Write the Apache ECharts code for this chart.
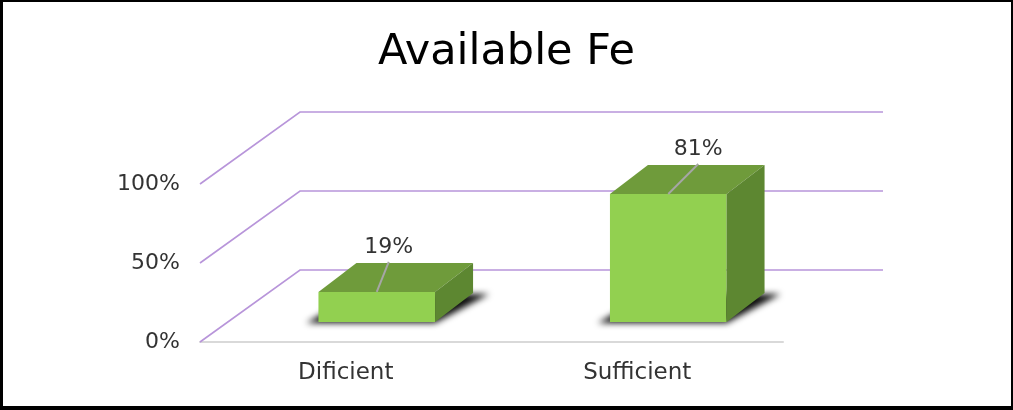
<!DOCTYPE html>
<html>
<head>
<meta charset="utf-8">
<script src="https://cdn.jsdelivr.net/npm/echarts@6/dist/echarts.min.js"></script>
<style>
  html, body { margin: 0; padding: 0; background: #fff; }
  #wrap { position: relative; width: 1013px; height: 410px; }
  #chart { position: absolute; left: 0; top: 0; width: 1013px; height: 410px; }
  #frame { position: absolute; left: 0; top: 0; right: 0; bottom: 0;
           border-style: solid; border-color: #000; border-width: 2px 2px 4px 3px;
           pointer-events: none; }
</style>
</head>
<body>
<div id="wrap">
  <div id="chart"></div>
  <div id="frame"></div>
</div>
<script>
// Share of samples per Fe availability class (%)
const categories = ['Dificient', 'Sufficient'];
const shares = [19, 81];
const yTicks = [0, 50, 100];

// 3D look: wall depth, bar placement inside the depth and bar thickness
const WALL_DX = 100, WALL_DY = -72;
const BAR_SHIFT_X = 31, BAR_SHIFT_Y = -20;
const BAR_DX = 38, BAR_DY = -29;
const BAR_WIDTH_RATIO = 0.4;
// leader line of each data label: rise and sideways lean
const LEADER_RISE = 30;
const leaderLean = [12, 30];

const FONT = 'DejaVu Sans';
const TEXT_COLOR = '#333333';

const chart = echarts.init(document.getElementById('chart'), null, { renderer: 'canvas' });

function renderWall(params, api) {
  const cs = params.coordSys;
  const y = api.coord([0, api.value(1)])[1];
  const left = cs.x, right = cs.x + cs.width;
  return {
    type: 'polyline',
    shape: { points: [[left, y], [left + WALL_DX, y + WALL_DY], [right + WALL_DX, y + WALL_DY]] },
    style: { stroke: '#B895DA', lineWidth: 1.6, fill: null }
  };
}

function renderBar(params, api) {
  const idx = params.dataIndex;
  const base = api.coord([api.value(0), 0]);
  const top = api.coord([api.value(0), api.value(1)]);
  const band = api.size([1, 0])[0];
  const w = band * BAR_WIDTH_RATIO;
  const x0 = base[0] - w / 2 + BAR_SHIFT_X;
  const x1 = x0 + w;
  const yb = base[1] + BAR_SHIFT_Y;
  const yt = top[1] + BAR_SHIFT_Y;

  // soft shadow cast by the bar footprint, drawn off-canvas and brought back by its shadow offset
  const OFF = 3000;
  const foot = [
    [x0 - 12, yb], [x1, yb], [x1 + BAR_DX + 16, yb + BAR_DY], [x0 + BAR_DX, yb + BAR_DY]
  ].map(p => [p[0] - OFF, p[1]]);

  const cx = (x0 + x1) / 2;
  const lx = cx + leaderLean[idx];
  const ly = yt - LEADER_RISE;

  return {
    type: 'group',
    children: [
      {
        type: 'polygon',
        shape: { points: foot },
        style: { fill: 'rgba(0,0,0,1)', shadowColor: 'rgba(0,0,0,0.95)', shadowBlur: 6, shadowOffsetX: OFF, shadowOffsetY: 1 }
      },
      {
        type: 'rect',
        shape: { x: x0, y: yt, width: w, height: yb - yt },
        style: { fill: '#92D050' }
      },
      {
        type: 'polygon',
        shape: { points: [[x0, yt], [x1, yt], [x1 + BAR_DX, yt + BAR_DY], [x0 + BAR_DX, yt + BAR_DY]] },
        style: { fill: '#6F9B3B' }
      },
      {
        type: 'polygon',
        shape: { points: [[x1, yt], [x1 + BAR_DX, yt + BAR_DY], [x1 + BAR_DX, yb + BAR_DY], [x1, yb]] },
        style: { fill: '#5D8731' }
      },
      {
        type: 'line',
        shape: { x1: cx, y1: yt, x2: lx, y2: ly },
        style: { stroke: '#A6A6A6', lineWidth: 2 }
      },
      {
        type: 'text',
        style: {
          x: lx, y: ly - 4, text: api.value(1) + '%',
          align: 'center', verticalAlign: 'bottom',
          fill: TEXT_COLOR, font: '22px "' + FONT + '"'
        }
      }
    ]
  };
}

chart.setOption({
  animation: false,
  backgroundColor: '#fff',
  title: {
    text: 'Available Fe',
    left: 'center',
    top: 26,
    textStyle: { fontFamily: FONT, fontSize: 43, fontWeight: 'normal', color: '#000' }
  },
  grid: { left: 200, right: 230, top: 184, bottom: 68 },
  xAxis: {
    type: 'category',
    data: categories,
    axisLine: { lineStyle: { color: '#D9D9D9', width: 2 } },
    axisTick: { show: false },
    axisLabel: { fontFamily: FONT, fontSize: 23, color: TEXT_COLOR, margin: 20 }
  },
  yAxis: {
    type: 'value',
    min: 0, max: 100, interval: 50,
    axisLine: { show: false },
    axisTick: { show: false },
    splitLine: { show: false },
    axisLabel: { formatter: '{value}%', fontFamily: FONT, fontSize: 22, color: TEXT_COLOR, margin: 20 }
  },
  series: [
    {
      type: 'custom',
      z: 1,
      silent: true,
      renderItem: renderWall,
      encode: { x: 0, y: 1 },
      data: yTicks.map(v => [0, v])
    },
    {
      type: 'custom',
      z: 5,
      renderItem: renderBar,
      encode: { x: 0, y: 1 },
      data: categories.map((c, i) => [i, shares[i]])
    }
  ]
});
</script>
</body>
</html>
